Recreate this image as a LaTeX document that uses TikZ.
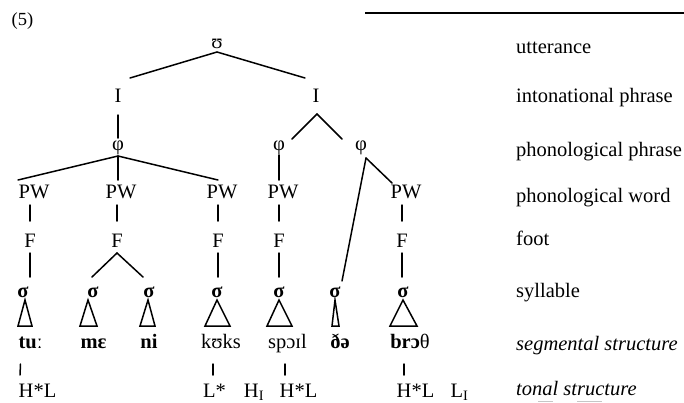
\documentclass[tikz,border=0pt]{standalone}
\usepackage{fontspec}
\setmainfont{Liberation Serif}
\usetikzlibrary{calc}
\begin{document}
\begin{tikzpicture}[x=1pt,y=-1pt,
  every node/.style={inner sep=0pt, font=\fontsize{20.5}{24}\selectfont},
  lbl/.style={anchor=base},
  side/.style={anchor=base west},
  branch/.style={line width=1.5pt, line cap=round},
  tri/.style={line width=1.5pt, line join=miter},
]
\useasboundingbox (0,0) rectangle (684,402);

% example number and rule
\node[lbl] (ex) at (22.5,25) {\fontsize{18.5}{20}\selectfont(5)};
\draw[line width=2.4pt] (365,13) -- (684,13);

% prosodic hierarchy
\node[lbl] (u)  at (217,48) {ʊ};
\node[lbl] (I1) at (118,102) {I};
\node[lbl] (I2) at (316,102) {I};
\node[lbl] (p1) at (118,150) {φ};
\node[lbl] (p2) at (279,150) {φ};
\node[lbl] (p3) at (361,150) {φ};
\node[lbl] (w1) at (34,198) {PW};
\node[lbl] (w2) at (121,198) {PW};
\node[lbl] (w3) at (222,198) {PW};
\node[lbl] (w4) at (283,198) {PW};
\node[lbl] (w5) at (406,198) {PW};
\node[lbl] (f1) at (30,247) {F};
\node[lbl] (f2) at (117,247) {F};
\node[lbl] (f3) at (218,247) {F};
\node[lbl] (f4) at (279,247) {F};
\node[lbl] (f5) at (402,247) {F};
\node[lbl] (s1) at (23,297) {\textbf{σ}};
\node[lbl] (s2) at (93,297) {\textbf{σ}};
\node[lbl] (s3) at (149,297) {\textbf{σ}};
\node[lbl] (s4) at (217,297) {\textbf{σ}};
\node[lbl] (s5) at (279,297) {\textbf{σ}};
\node[lbl] (s6) at (335,297) {\textbf{σ}};
\node[lbl] (s7) at (403,297) {\textbf{σ}};

% segments
\node[lbl] (g1) at (30.5,348) {\textbf{tuː}};
\node[lbl] (g2) at (93.5,348) {\textbf{mɛ}};
\node[lbl] (g3) at (149,348) {\textbf{ni}};
\node[lbl] (g4) at (221,348) {kʊks};
\node[lbl] (g5) at (287.5,348) {spɔɪl};
\node[lbl] (g6) at (340,348) {\textbf{ðə}};
\node[lbl] (g7) at (410,348) {\textbf{brɔ}θ};

% tones
\node[lbl] (t1) at (37.5,397) {H*L};
\node[lbl] (t2) at (214.5,397) {L*};
\node[lbl] (t3) at (254,397) {H\textsubscript{I}};
\node[lbl] (t4) at (298.5,397) {H*L};
\node[lbl] (t5) at (415.5,397) {H*L};
\node[lbl] (t6) at (459.5,397) {L\textsubscript{I}};

% level names
\node[side] (n1) at (516,53)  {utterance};
\node[side] (n2) at (516,102) {intonational phrase};
\node[side] (n3) at (516,156) {phonological phrase};
\node[side] (n4) at (516,202) {phonological word};
\node[side] (n5) at (516,245) {foot};
\node[side] (n6) at (516,297) {syllable};
\node[side] (n7) at (516,350) {\itshape segmental structure};
\node[side] (n8) at (516,395) {\itshape tonal structure};
\draw[gray!45, line width=0.9pt] ($(n8.base west)+(22,6)$) -- ($(n8.base west)+(37,6)$);
\draw[gray!45, line width=0.9pt] ($(n8.base west)+(61,6)$) -- ($(n8.base west)+(86,6)$);

% branches
\draw[branch] ($(u.base)+(0,4)$) -- ($(I1.base)+(12,-24)$);
\draw[branch] ($(u.base)+(0,4)$) -- ($(I2.base)+(-11,-24)$);
\draw[branch] ($(I1.base)+(0,13)$) -- ($(p1.base)+(0,-12)$);
\draw[branch] ($(I2.base)+(1,12)$) -- ($(p2.base)+(13,-11)$);
\draw[branch] ($(I2.base)+(1,12)$) -- ($(p3.base)+(-19,-11)$);
\draw[branch] ($(p1.base)+(0,6)$) -- ($(w1.base)+(-16,-18)$);
\draw[branch] ($(p1.base)+(0,6)$) -- ($(w2.base)+(-3,-18)$);
\draw[branch] ($(p1.base)+(0,6)$) -- ($(w3.base)+(-4,-18)$);
\draw[branch] ($(p2.base)+(0,5)$) -- ($(w4.base)+(-4,-18)$);
\draw[branch] ($(p3.base)+(5,8)$) -- ($(w5.base)+(-14,-15)$);
\draw[branch] ($(p3.base)+(5,8)$) -- ($(s6.base)+(7,-16)$);
\foreach \w/\f/\dx in {w1/f1/-4, w2/f2/-4, w3/f3/-4, w4/f4/-4, w5/f5/-4}
  \draw[branch] ($(\w.base)+(\dx,7)$) -- ($(\f.base)+(0,-26)$);
\draw[branch] ($(f1.base)+(0,6)$) -- ($(s1.base)+(7,-20)$);
\draw[branch] ($(f2.base)+(0,6)$) -- ($(s2.base)+(-1,-20)$);
\draw[branch] ($(f2.base)+(0,6)$) -- ($(s3.base)+(-6,-20)$);
\draw[branch] ($(f3.base)+(0,6)$) -- ($(s4.base)+(1,-20)$);
\draw[branch] ($(f4.base)+(0,6)$) -- ($(s5.base)+(0,-20)$);
\draw[branch] ($(f5.base)+(0,6)$) -- ($(s7.base)+(-1,-20)$);

% syllable triangles
\foreach \s/\a/\l/\r in {s1/2/-5/9, s2/-5/-13/4, s3/-1/-9/6, s4/0/-12/13,
                         s5/0/-12/13, s6/0/-3/4, s7/0/-13/14}
  \draw[tri] ($(\s.base)+(\a,3)$) -- ($(\s.base)+(\l,29)$) -- ($(\s.base)+(\r,29)$) -- cycle;

% association lines to tones
\draw[branch] ($(g1.base)+(-10,16)$) -- ($(t1.base)+(-17.5,-22)$);
\draw[branch] ($(g4.base)+(-8,16)$) -- ($(t2.base)+(-1.5,-22)$);
\draw[branch] ($(g5.base)+(-2.5,16)$) -- ($(t4.base)+(-13.5,-22)$);
\draw[branch] ($(g7.base)+(-6,16)$) -- ($(t5.base)+(-11.5,-22)$);
\end{tikzpicture}
\end{document}
